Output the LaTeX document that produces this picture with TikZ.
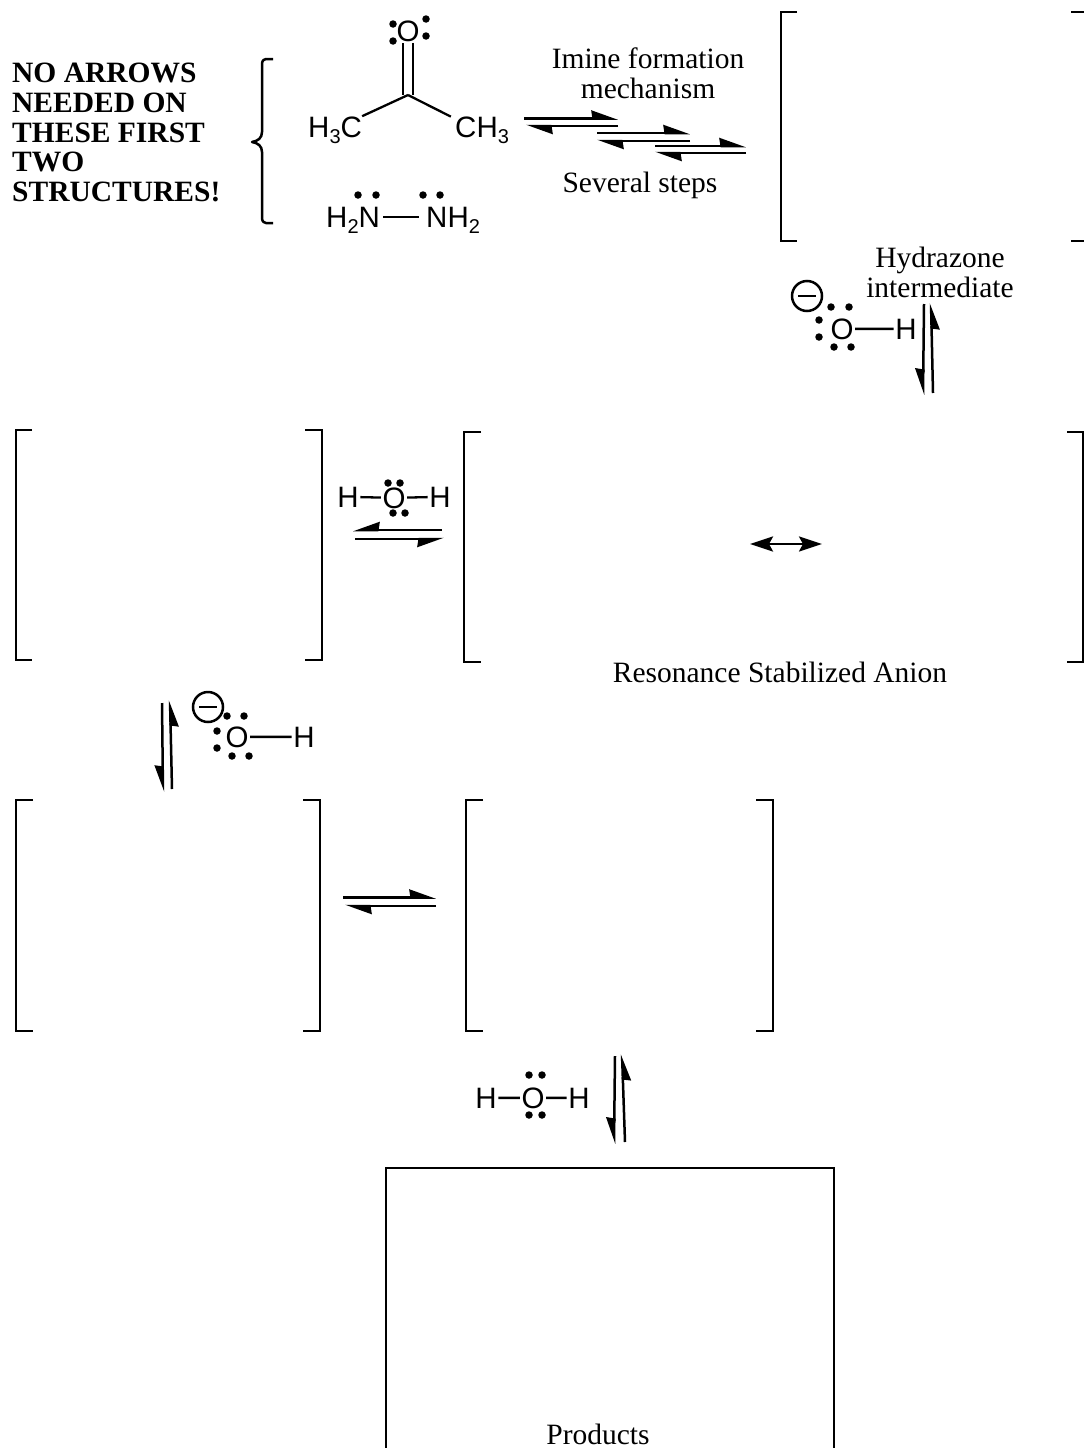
\documentclass[tikz,border=0pt]{standalone}
\usepackage{fontspec}
\setmainfont{Liberation Serif}
\newfontfamily\chemfont{Liberation Sans}
\usetikzlibrary{arrows.meta}
\newcommand{\sbs}[1]{\raisebox{-6pt}{\fontsize{20}{20}\selectfont #1}}
\tikzset{
  brk/.style={line width=2.5pt,line cap=butt},
  bond/.style={line width=2.3pt},
  chem/.style={inner sep=1.5pt,anchor=base,font=\chemfont\fontsize{29.5}{30}\selectfont},
  lbl/.style={inner sep=0pt,anchor=base,font=\fontsize{29.5}{30}\selectfont},
  warn/.style={inner sep=0pt,anchor=base west,font=\bfseries\fontsize{29.5}{30}\selectfont},
  harp/.style={line width=2.5pt,-{Stealth[harpoon,length=23pt,width=16pt,inset=1pt]}},
  harps/.style={line width=2.5pt,-{Stealth[harpoon,swap,length=23pt,width=16pt,inset=1pt]}},
  both/.style={line width=2.5pt,{Stealth[length=23pt,width=15pt,inset=4pt]}-{Stealth[length=23pt,width=15pt,inset=4pt]}},
  ldot/.style={circle,fill=black,inner sep=0pt,minimum size=7.5pt},
  charge/.style={circle,draw,line width=2.5pt,inner sep=0pt,minimum size=30pt}
}
\newcommand{\lp}[3]{\node[ldot] (#1) at (#2,#3) {};}
\newcommand{\minusat}[3]{\node[charge] (#1) at (#2,#3) {}; \draw[line width=2.5pt] (#2-9,#3) -- (#2+9,#3);}
\begin{document}
\begin{tikzpicture}[x=1pt,y=-1pt]
\useasboundingbox (0,0) rectangle (1084,1448);
% warning text
\node[warn] (w1) at (12,82) {NO ARROWS};
\node[warn] (w2) at (12,112) {NEEDED ON};
\node[warn] (w3) at (12,142) {THESE FIRST};
\node[warn] (w4) at (12,171) {TWO};
\node[warn] (w5) at (12,201) {STRUCTURES!};
% brace
\draw[line width=2.5pt,line join=round] (273,59) -- (266,59) .. controls (262,60) and (262,62) .. (262,66) -- (262,132) .. controls (262,138) and (258,141) .. (252,142) .. controls (258,143) and (262,146) .. (262,152) -- (262,216) .. controls (262,220) and (262,222) .. (266,223) -- (273,223);
% acetone
\node[chem] (oa) at (408,41) {O};
\coordinate (ca) at (408,95);
\node[chem,anchor=base west,inner sep=0pt] (h3c) at (308,137) {H\sbs{3}C};
\node[chem,anchor=base west,inner sep=0pt] (ch3) at (455,137) {CH\sbs{3}};
\draw[bond,double,double distance=7.5pt] (oa.south) -- (ca);
\draw[bond] (ca) -- (h3c.north east);
\draw[bond,shorten >=-1pt] (ca) -- ([xshift=-5pt]ch3.north west);
\lp{a1}{393}{24}\lp{a2}{393}{41}\lp{a3}{426}{19}\lp{a4}{426}{36}
% hydrazine
\node[chem,anchor=base west,inner sep=0pt] (h2n) at (326,227) {H\sbs{2}N};
\node[chem,anchor=base west,inner sep=0pt] (nh2) at (426,227) {NH\sbs{2}};
\draw[bond] ([xshift=3pt,yshift=3pt]h2n.east) -- ([xshift=-7pt,yshift=3pt]nh2.west);
\lp{n1}{358}{195}\lp{n2}{376}{195}\lp{n3}{423}{195}\lp{n4}{440}{195}
% labels
\node[lbl] (imine) at (648,68) {Imine formation};
\node[lbl] (mech) at (648,98) {mechanism};
\node[lbl] (steps) at (640,192) {Several steps};
\node[lbl] (hydra) at (940,267) {Hydrazone};
\node[lbl] (inter) at (940,297) {intermediate};
\node[lbl] (reso) at (780,682) {Resonance Stabilized Anion};
\node[lbl] (prod) at (598,1444) {Products};
% top equilibrium arrows
\coordinate (e1a) at (524,118.5); \coordinate (e1b) at (618,118.5);
\coordinate (e1c) at (618,126);   \coordinate (e1d) at (526,126);
\coordinate (e2a) at (597,133);   \coordinate (e2b) at (690,133);
\coordinate (e2c) at (690,141);   \coordinate (e2d) at (597,141);
\coordinate (e3a) at (655,146);   \coordinate (e3b) at (746,146);
\coordinate (e3c) at (746,153);   \coordinate (e3d) at (655,153);
\draw[harp] (e1a) -- (e1b); \draw[harp] (e1c) -- (e1d);
\draw[harp] (e2a) -- (e2b); \draw[harp] (e2c) -- (e2d);
\draw[harp] (e3a) -- (e3b); \draw[harp] (e3c) -- (e3d);
% brackets row 1
\draw[brk] (797,12) -- (781,12) -- (781,241) -- (797,241);
\draw[brk] (1071,12) -- (1084,12);
\draw[brk] (1071,241) -- (1084,241);
% hydroxide 1
\minusat{m1}{807}{296}
\node[chem] (o1) at (842,339) {O};
\node[chem] (h1) at (906,339) {H};
\draw[bond] (o1) -- (h1);
\lp{p1}{831}{307}\lp{p2}{849}{307}\lp{p3}{819}{320}\lp{p4}{819}{337}\lp{p5}{834}{347}\lp{p6}{851}{347}
\coordinate (v1a) at (924,304); \coordinate (v1b) at (923,395);
\coordinate (v1c) at (933,393); \coordinate (v1d) at (931,303);
\draw[harps] (v1a) -- (v1b); \draw[harps] (v1c) -- (v1d);
% brackets row 2
\draw[brk] (32,430) -- (16,430) -- (16,660) -- (32,660);
\draw[brk] (305,430) -- (322,430) -- (322,660) -- (305,660);
\draw[brk] (481,432) -- (464,432) -- (464,662) -- (481,662);
\draw[brk] (1067,432) -- (1083,432) -- (1083,662) -- (1067,662);
% water 1
\node[chem] (h2) at (348,507) {H};
\node[chem] (o2) at (394,508) {O};
\node[chem] (h3) at (440,507) {H};
\draw[bond] (h2) -- (o2); \draw[bond] (o2) -- (h3);
\lp{q1}{388}{483}\lp{q2}{400}{483}\lp{q3}{393}{513}\lp{q4}{405}{513}
\coordinate (w1a) at (442,530); \coordinate (w1b) at (353,530);
\coordinate (w1c) at (355,539); \coordinate (w1d) at (444,539);
\draw[harps] (w1a) -- (w1b); \draw[harps] (w1c) -- (w1d);
% resonance arrow
\coordinate (ra) at (750,544); \coordinate (rb) at (822,544);
\draw[both] (ra) -- (rb);
% hydroxide 2
\minusat{m2}{208}{707}
\node[chem] (o3) at (237,747) {O};
\node[chem] (h4) at (304,747) {H};
\draw[bond] (o3) -- (h4);
\lp{s1}{227}{716}\lp{s2}{244}{716}\lp{s3}{217}{731}\lp{s4}{217}{748}\lp{s5}{232}{756}\lp{s6}{249}{756}
\coordinate (v2a) at (162,703); \coordinate (v2b) at (163,792);
\coordinate (v2c) at (172,789); \coordinate (v2d) at (170,700);
\draw[harps] (v2a) -- (v2b); \draw[harps] (v2c) -- (v2d);
% brackets row 3
\draw[brk] (33,800) -- (16,800) -- (16,1031) -- (33,1031);
\draw[brk] (303,800) -- (320,800) -- (320,1031) -- (303,1031);
\draw[brk] (483,800) -- (466,800) -- (466,1031) -- (483,1031);
\draw[brk] (756,800) -- (773,800) -- (773,1031) -- (756,1031);
\coordinate (h1a) at (343,897.5); \coordinate (h1b) at (436,897.5);
\coordinate (h1c) at (436,906); \coordinate (h1d) at (345,906);
\draw[harp] (h1a) -- (h1b); \draw[harp] (h1c) -- (h1d);
% water 2
\node[chem] (h5) at (486,1108) {H};
\node[chem] (o4) at (533,1108) {O};
\node[chem] (h6) at (579,1108) {H};
\draw[bond] (h5) -- (o4); \draw[bond] (o4) -- (h6);
\lp{t1}{529}{1075}\lp{t2}{542}{1075}\lp{t3}{529}{1115}\lp{t4}{542}{1115}
\coordinate (v3a) at (615,1056); \coordinate (v3b) at (614,1144);
\coordinate (v3c) at (625,1142); \coordinate (v3d) at (622,1054);
\draw[harps] (v3a) -- (v3b); \draw[harps] (v3c) -- (v3d);
% products box
\draw[brk] (386,1448) -- (386,1168) -- (834,1168) -- (834,1448);
\end{tikzpicture}
\end{document}
